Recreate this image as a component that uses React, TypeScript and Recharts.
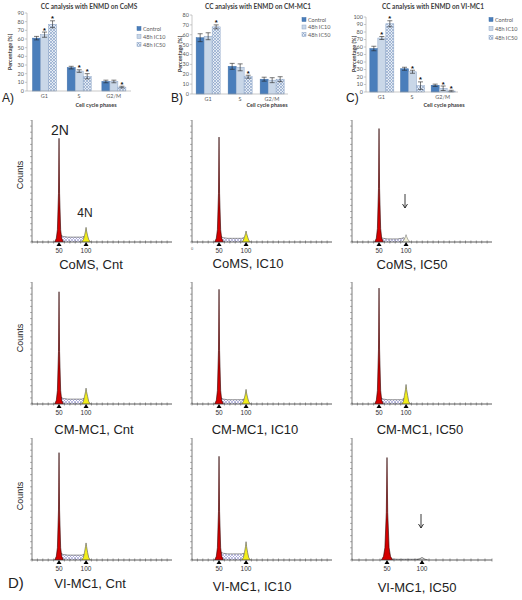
import React from 'react';
import { BarChart, Bar, XAxis, YAxis, ErrorBar, Legend, ComposedChart, Area } from 'recharts';

const FONT_BAR = 'Lato, "Open Sans", sans-serif';
const FONT_HIST = '"Liberation Sans", Arial, sans-serif';

const phases = ['G1', 'S', 'G2/M'];
const seriesNames = ['Control', '48h IC10', '48h IC50'];
const barFills = ['#4a7ebb', '#c9d7e8', 'url(#hatch50)'];
const barStrokes = ['#3f6fa8', '#8ea6c8', '#8ea6c8'];

// A) CoMS
const comsControl = [61, 27, 11];
const comsControlErr = [2, 1.5, 1.5];
const comsIc10 = [65, 23, 11];
const comsIc10Err = [3, 1.5, 1.5];
const comsIc50 = [77, 17, 4.5];
const comsIc50Err = [4, 3, 1];
const comsStar10 = [1, 1, 0];
const comsStar50 = [1, 1, 1];
const comsTicks = [0, 10, 20, 30, 40, 50, 60, 70, 80, 90];

// B) CM-MC1
const cmControl = [57, 28, 15];
const cmControlErr = [4, 3, 2];
const cmIc10 = [58.5, 27, 14];
const cmIc10Err = [3.5, 3.5, 2.5];
const cmIc50 = [68, 17.5, 15];
const cmIc50Err = [2, 1.5, 2.5];
const cmStar10 = [0, 0, 0];
const cmStar50 = [1, 1, 0];
const cmTicks = [0, 10, 20, 30, 40, 50, 60, 70, 80];

// C) VI-MC1
const viControl = [58, 31, 9];
const viControlErr = [3, 2, 1.5];
const viIc10 = [72, 27, 5];
const viIc10Err = [2, 2, 3];
const viIc50 = [91, 8.5, 1.3];
const viIc50Err = [4, 5, 1];
const viStar10 = [1, 1, 1];
const viStar50 = [1, 1, 1];
const viTicks = [0, 10, 20, 30, 40, 50, 60, 70, 80, 90, 100];

// D) DNA histograms (channel, % of axis height)
const g1X = [42, 45, 47, 49, 50, 51, 53, 55, 58];
const sX = [49, 53, 58, 66, 75, 84, 92, 96, 99];
const g2X = [92, 95, 97, 99, 100, 101, 103, 105, 108];

const comsCntG1 = [0, 3, 10, 40, 85, 40, 10, 3, 0];
const comsCntS = [0, 5.5, 4.5, 4, 4, 4, 4, 4.5, 0];
const comsCntG2 = [0, 2, 5, 9, 12, 9, 5, 2, 0];
const comsIc10G1 = [0, 3, 10, 40, 86, 40, 10, 3, 0];
const comsIc10S = [0, 4.5, 3.5, 3, 3, 3, 3, 3.5, 0];
const comsIc10G2 = [0, 1.5, 4, 7, 9, 7, 4, 1.5, 0];
const comsIc50G1 = [0, 3, 11, 44, 93, 44, 11, 3, 0];
const comsIc50S = [0, 3.5, 3, 2.5, 2.5, 2.5, 3, 3.5, 0];
const comsIc50G2 = [0, 1, 2.5, 4.5, 6, 4.5, 2.5, 1, 0];

const cmCntG1 = [0, 3, 11, 43, 92, 43, 11, 3, 0];
const cmCntS = [0, 5.5, 4.5, 4, 4, 4, 4, 4.5, 0];
const cmCntG2 = [0, 2, 6, 10, 13, 10, 6, 2, 0];
const cmIc10G1 = [0, 3, 11, 44, 94, 44, 11, 3, 0];
const cmIc10S = [0, 5, 4, 3.5, 3.5, 3.5, 3.5, 4, 0];
const cmIc10G2 = [0, 2, 5, 9, 12, 9, 5, 2, 0];
const cmIc50G1 = [0, 3, 11, 45, 95, 45, 11, 3, 0];
const cmIc50S = [0, 5, 4, 3.5, 3.5, 3.5, 3.5, 4.5, 0];
const cmIc50G2 = [0, 2, 7, 12, 16, 12, 7, 2, 0];

const viCntG1 = [0, 3, 10, 41, 88, 41, 10, 3, 0];
const viCntS = [0, 5.5, 4.5, 4, 4, 4, 4, 4.5, 0];
const viCntG2 = [0, 2, 6, 11, 14, 11, 6, 2, 0];
const viIc10G1 = [0, 3, 10, 40, 85, 40, 10, 3, 0];
const viIc10S = [0, 6.5, 5.5, 5, 5, 5, 5, 5.5, 0];
const viIc10G2 = [0, 2, 6, 11, 15, 11, 6, 2, 0];
const viIc50G1 = [0, 3, 10, 39, 84, 39, 10, 3, 0];
const viIc50S = [0, 1, 0.8, 0.6, 0.6, 0.6, 0.6, 0.8, 0];
const viIc50G2 = [0, 0.5, 1, 1.8, 2, 1.8, 1, 0.5, 0];

const histXTicks = [0, 10, 20, 30, 40, 50, 60, 70, 80, 90, 100, 110, 120, 130, 140, 150, 160, 170, 180, 190, 200, 210, 220, 230, 240, 250];
const histYTicks = [0, 5, 10, 15, 20, 25, 30, 35, 40, 45, 50, 55, 60, 65, 70, 75, 80, 85, 90, 95, 100];

const buildRows = (c: number[], ce: number[], a: number[], ae: number[], b: number[], be: number[], s10: number[], s50: number[]) =>
  phases.map((phase, i) => ({
    phase,
    control: c[i], controlErr: ce[i],
    ic10: a[i], ic10Err: ae[i],
    ic50: b[i], ic50Err: be[i],
    star10: s10[i], star50: s50[i],
  }));

const comsRows = buildRows(comsControl, comsControlErr, comsIc10, comsIc10Err, comsIc50, comsIc50Err, comsStar10, comsStar50);
const cmRows = buildRows(cmControl, cmControlErr, cmIc10, cmIc10Err, cmIc50, cmIc50Err, cmStar10, cmStar50);
const viRows = buildRows(viControl, viControlErr, viIc10, viIc10Err, viIc50, viIc50Err, viStar10, viStar50);

const pts = (xs: number[], ys: number[]) => xs.map((x, i) => ({ x, y: ys[i] }));

// bar with a significance star above its error bar
const barShape = (valueKey: string, errKey: string, starKey: string | null, stroke: string) => (props: any) => {
  const { x, y, width, height, fill, payload } = props;
  const v = payload[valueKey];
  const ppu = v ? height / v : 0;
  const errTop = y - payload[errKey] * ppu;
  return (
    <g>
      <rect x={x} y={y} width={width} height={height} fill={fill} stroke={stroke} strokeWidth={0.5} />
      {starKey && payload[starKey] ? (
        <text x={x + width / 2} y={errTop + 0.5} textAnchor="middle" fontSize={7.5} fontWeight="bold" fill="#111" fontFamily={FONT_HIST}>*</text>
      ) : null}
    </g>
  );
};

const LegendBox = ({ step }: { step: number }) => (
  <svg width={40} height={step * 3 + 2} style={{ overflow: 'visible', display: 'block' }}>
    {seriesNames.map((n, i) => (
      <g key={n} transform={`translate(0, ${i * step})`}>
        <rect x={0} y={0.5} width={4} height={4} fill={barFills[i]} stroke={barStrokes[i]} strokeWidth={0.5} />
        <text x={6} y={4.6} fontSize={5.5} fill="#595959" fontFamily={FONT_BAR}>{n}</text>
      </g>
    ))}
  </svg>
);

function CCChart(p: any) {
  return (
    <div style={{ position: 'absolute', left: p.left, top: 0 }}>
      <BarChart width={p.width} height={110} data={p.rows} margin={{ top: p.top, right: p.right, left: 0, bottom: 0 }} barCategoryGap={p.gap} barGap={0}>
        <XAxis dataKey="phase" height={p.xh} tickLine={false} tickSize={0} tickMargin={3} axisLine={{ stroke: '#a6a6a6', strokeWidth: 0.6 }} tick={{ fontSize: 5.5, fill: '#595959', fontFamily: FONT_BAR }} />
        <YAxis domain={[0, p.yMax]} ticks={p.ticks} interval={0} width={p.yw} tickSize={2} tickMargin={1} axisLine={{ stroke: '#a6a6a6', strokeWidth: 0.6 }} tickLine={{ stroke: '#a6a6a6', strokeWidth: 0.6 }} tick={{ fontSize: 5.5, fill: '#595959', fontFamily: FONT_BAR }} />
        <Legend layout="horizontal" verticalAlign="middle" align="right" wrapperStyle={{ left: p.legLeft, top: p.legTop, width: 40, height: 30 }} content={() => <LegendBox step={p.legStep} />} />
        <Bar dataKey="control" fill={barFills[0]} shape={barShape('control', 'controlErr', null, barStrokes[0])} isAnimationActive={false}>
          <ErrorBar dataKey="controlErr" width={2.5} strokeWidth={0.6} stroke="#222" />
        </Bar>
        <Bar dataKey="ic10" fill={barFills[1]} shape={barShape('ic10', 'ic10Err', 'star10', barStrokes[1])} isAnimationActive={false}>
          <ErrorBar dataKey="ic10Err" width={2.5} strokeWidth={0.6} stroke="#222" />
        </Bar>
        <Bar dataKey="ic50" fill={barFills[2]} shape={barShape('ic50', 'ic50Err', 'star50', barStrokes[2])} isAnimationActive={false}>
          <ErrorBar dataKey="ic50Err" width={2.5} strokeWidth={0.6} stroke="#222" />
        </Bar>
      </BarChart>
    </div>
  );
}

const HistTick = (props: any) => {
  const { x, y, payload, showZero } = props;
  const v = payload.value;
  if (v === 50 || v === 100) {
    return (
      <g>
        <path d={`M${x - 2.5},${y + 4} L${x + 2.5},${y + 4} L${x},${y} Z`} fill="#000" />
        <text x={x} y={y + 10.5} textAnchor="middle" fontSize={6.5} fill="#333" fontFamily={FONT_HIST}>{v}</text>
      </g>
    );
  }
  return (
    <g>
      <line x1={x} y1={y - 1.5} x2={x} y2={y + 1.5} stroke="#555" strokeWidth={0.6} />
      {v === 0 && showZero ? <text x={x} y={y + 8} textAnchor="middle" fontSize={4} fill="#555" fontFamily={FONT_HIST}>0</text> : null}
    </g>
  );
};

function Histogram(p: any) {
  const ticks = histXTicks.filter((t) => t <= p.xMax);
  return (
    <div style={{ position: 'absolute', left: p.left - 8, top: p.top }}>
      <ComposedChart width={150} height={136} margin={{ top: 0, right: 2, left: 0, bottom: 0 }}>
        <XAxis type="number" dataKey="x" domain={[0, p.xMax]} allowDataOverflow ticks={ticks} interval={0} height={14} tickSize={0} tickMargin={0} tickLine={false} axisLine={{ stroke: '#333', strokeWidth: 0.8 }} tick={<HistTick showZero={p.showZero} />} />
        <YAxis type="number" domain={[0, 100]} allowDataOverflow ticks={histYTicks} interval={0} width={8} tickSize={2} tickFormatter={() => ''} axisLine={{ stroke: '#444', strokeWidth: 0.7 }} tickLine={{ stroke: '#666', strokeWidth: 0.5 }} />
        <Area data={pts(sX, p.s)} dataKey="y" type="linear" baseValue={0} fill="url(#sHatch)" stroke="#666" strokeWidth={0.7} isAnimationActive={false} />
        <Area data={pts(g1X, p.g1)} dataKey="y" type="linear" baseValue={0} fill="#d40000" fillOpacity={1} stroke="#2a0000" strokeWidth={0.6} isAnimationActive={false} />
        <Area data={pts(g2X, p.g2)} dataKey="y" type="linear" baseValue={0} fill={p.g2Fill || '#f2ee1a'} fillOpacity={1} stroke={p.g2Stroke || '#555'} strokeWidth={0.6} isAnimationActive={false} />
      </ComposedChart>
    </div>
  );
}

const T = (p: any) => (
  <text x={p.x} y={p.y} textAnchor={p.anchor || 'middle'} dominantBaseline="central" fontSize={p.size} fontWeight={p.bold ? 'bold' : 'normal'} fill={p.fill || '#222'} fontFamily={p.font || FONT_HIST} transform={p.rotate ? `rotate(-90 ${p.x} ${p.y})` : undefined}>
    {p.children}
  </text>
);

const Arrow = ({ x, y1, y2 }: { x: number; y1: number; y2: number }) => (
  <path d={`M${x},${y1} L${x},${y2} M${x - 2.5},${y2 - 4} L${x},${y2} L${x + 2.5},${y2 - 4}`} stroke="#222" strokeWidth={0.9} fill="none" />
);

export default function App() {
  return (
    <div style={{ position: 'absolute', left: 0, top: 0, width: 522, height: 600, background: '#fff', overflow: 'hidden' }}>
      <svg width={0} height={0} style={{ position: 'absolute' }}>
        <defs>
          <pattern id="hatch50" width={3} height={3} patternUnits="userSpaceOnUse">
            <rect width={3} height={3} fill="#e4ebf4" />
            <path d="M0,0 L3,3 M3,0 L0,3" stroke="#7f9ac2" strokeWidth={0.6} />
          </pattern>
          <pattern id="sHatch" width={3} height={3} patternUnits="userSpaceOnUse">
            <rect width={3} height={3} fill="#fff" />
            <path d="M0,0 L3,3 M3,0 L0,3" stroke="#4a4ab0" strokeWidth={0.6} />
          </pattern>
        </defs>
      </svg>

      <CCChart rows={comsRows} left={0} width={175} yw={27} top={13} right={4} xh={19} yMax={90} ticks={comsTicks} gap="16%" legLeft={137} legTop={25.5} legStep={8} />
      <CCChart rows={cmRows} left={170} width={175} yw={22} top={15} right={17} xh={16} yMax={80} ticks={cmTicks} gap="13%" legLeft={132} legTop={16.5} legStep={7.5} />
      <CCChart rows={viRows} left={345} width={177} yw={21} top={17} right={24} xh={18} yMax={100} ticks={viTicks} gap="12.5%" legLeft={144} legTop={16.5} legStep={9} />

      <Histogram left={32} top={120} xMax={259} g1={comsCntG1} s={comsCntS} g2={comsCntG2} />
      <Histogram left={192} top={120} xMax={259} g1={comsIc10G1} s={comsIc10S} g2={comsIc10G2} showZero />
      <Histogram left={352} top={120} xMax={259} g1={comsIc50G1} s={comsIc50S} g2={comsIc50G2} g2Fill="#f3f1d8" g2Stroke="#777" />

      <Histogram left={32} top={282} xMax={259} g1={cmCntG1} s={cmCntS} g2={cmCntG2} />
      <Histogram left={192} top={282} xMax={259} g1={cmIc10G1} s={cmIc10S} g2={cmIc10G2} />
      <Histogram left={352} top={282} xMax={259} g1={cmIc50G1} s={cmIc50S} g2={cmIc50G2} />

      <Histogram left={32} top={438} xMax={259} g1={viCntG1} s={viCntS} g2={viCntG2} />
      <Histogram left={192} top={438} xMax={259} g1={viIc10G1} s={viIc10S} g2={viIc10G2} />
      <Histogram left={352} top={438} xMax={200} g1={viIc50G1} s={viIc50S} g2={viIc50G2} g2Fill="#ddd" g2Stroke="#333" />

      <svg width={522} height={600} style={{ position: 'absolute', left: 0, top: 0, pointerEvents: 'none' }}>
        <T x={89} y={6} size={6.5} bold font={FONT_BAR} fill="#404040">CC analysis with ENMD on CoMS</T>
        <T x={258} y={6} size={6.5} bold font={FONT_BAR} fill="#404040">CC analysis with ENMD on CM-MC1</T>
        <T x={433} y={6} size={6.5} bold font={FONT_BAR} fill="#404040">CC analysis with ENMD on VI-MC1</T>
        <T x={10} y={52} size={5.5} bold font={FONT_BAR} fill="#404040" rotate>Percentage (%)</T>
        <T x={180} y={54} size={5.5} bold font={FONT_BAR} fill="#404040" rotate>Percentage (%)</T>
        <T x={354} y={54} size={5.5} bold font={FONT_BAR} fill="#404040" rotate>Percentage (%)</T>
        <T x={96} y={105} size={5.5} bold font={FONT_BAR} fill="#404040">Cell cycle phases</T>
        <T x={267} y={105} size={5.5} bold font={FONT_BAR} fill="#404040">Cell cycle phases</T>
        <T x={444} y={104.5} size={5.5} bold font={FONT_BAR} fill="#404040">Cell cycle phases</T>
        <T x={2} y={98} size={12} anchor="start">A)</T>
        <T x={171} y={98} size={12} anchor="start">B)</T>
        <T x={346} y={98} size={12} anchor="start">C)</T>

        <T x={60} y={130} size={14}>2N</T>
        <T x={85} y={213} size={12}>4N</T>

        <T x={20} y={175} size={9} rotate>Counts</T>
        <T x={20} y={338} size={9} rotate>Counts</T>
        <T x={20} y={496} size={9} rotate>Counts</T>

        <T x={91} y={264} size={13}>CoMS, Cnt</T>
        <T x={248} y={263} size={13}>CoMS, IC10</T>
        <T x={412} y={264} size={13}>CoMS, IC50</T>
        <T x={94} y={429} size={13}>CM-MC1, Cnt</T>
        <T x={255} y={429} size={13}>CM-MC1, IC10</T>
        <T x={420} y={429} size={13}>CM-MC1, IC50</T>
        <T x={90} y={583} size={13}>VI-MC1, Cnt</T>
        <T x={252} y={586} size={13}>VI-MC1, IC10</T>
        <T x={417} y={587} size={13}>VI-MC1, IC50</T>
        <T x={8} y={582} size={15} anchor="start">D)</T>

        <Arrow x={405} y1={194} y2={208} />
        <Arrow x={421} y1={514} y2={528} />
      </svg>
    </div>
  );
}
